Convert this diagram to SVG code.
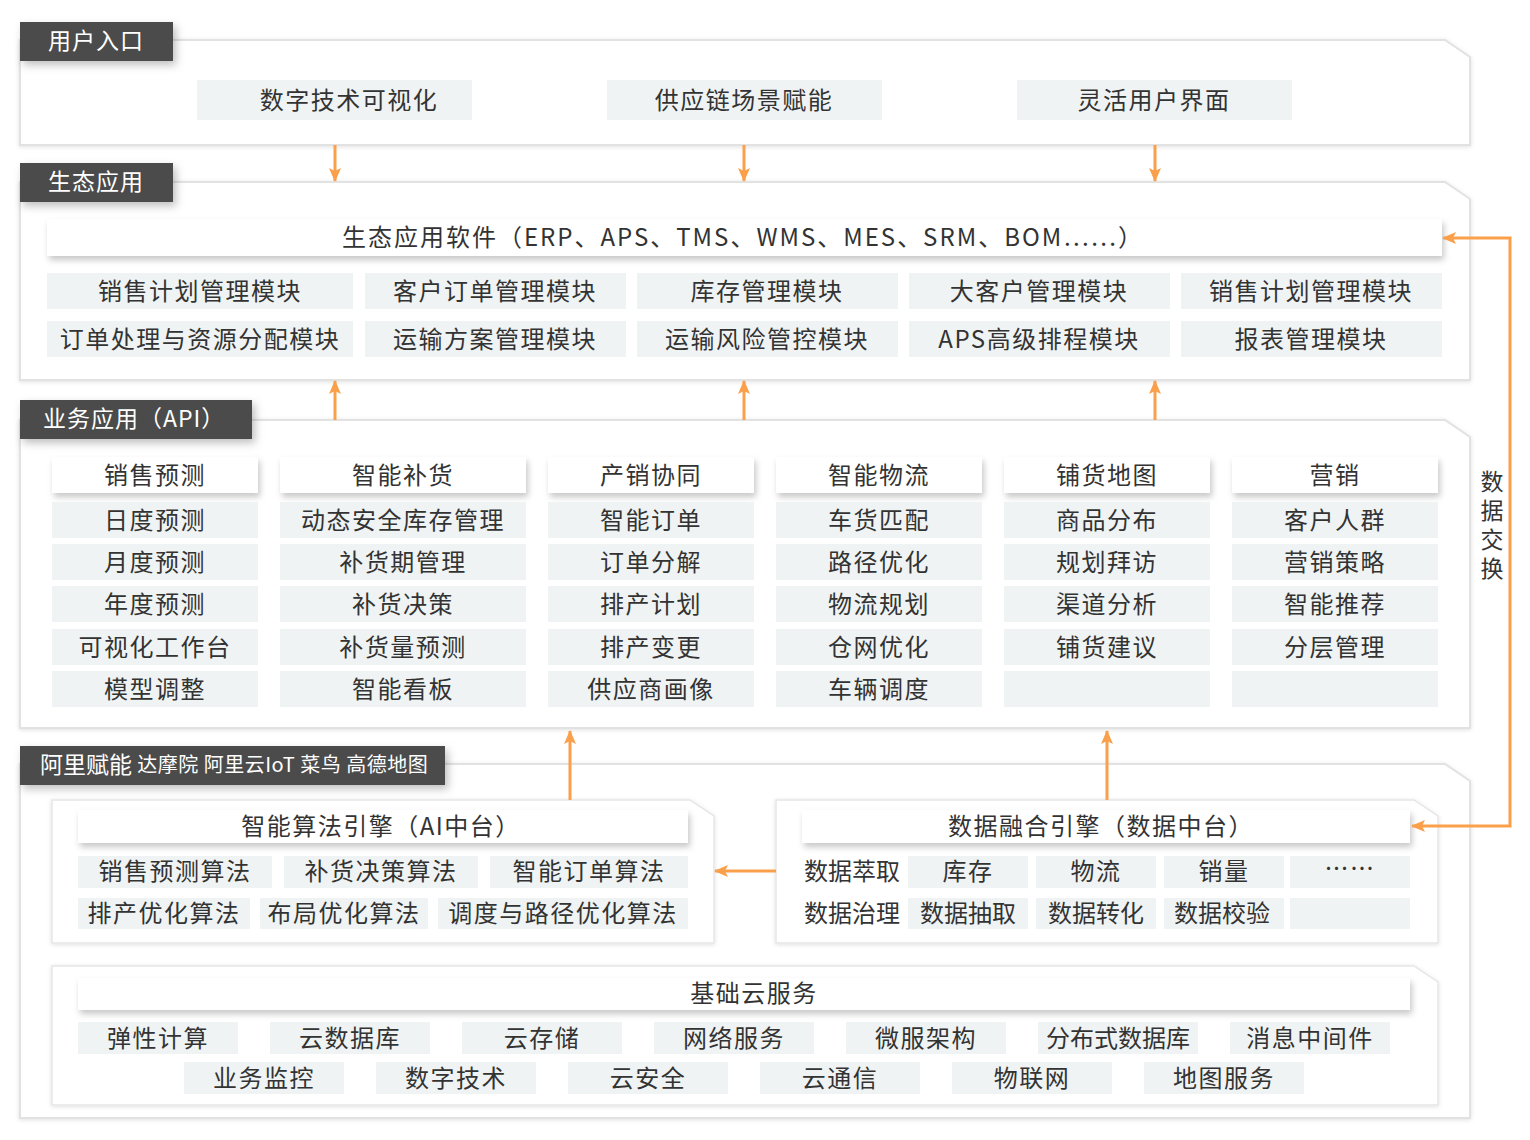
<svg xmlns="http://www.w3.org/2000/svg" width="1530" height="1140" viewBox="0 0 1530 1140">
<defs>
<filter id="pshadow" x="-5%" y="-10%" width="110%" height="120%">
<feDropShadow dx="0" dy="1" stdDeviation="2" flood-color="#000" flood-opacity="0.12"/>
</filter>
<filter id="bshadow" x="-5%" y="-30%" width="110%" height="180%">
<feDropShadow dx="2" dy="4" stdDeviation="3" flood-color="#000" flood-opacity="0.22"/>
</filter>
<filter id="lshadow" x="-10%" y="-20%" width="130%" height="160%">
<feDropShadow dx="3" dy="4" stdDeviation="4" flood-color="#000" flood-opacity="0.25"/>
</filter>
<marker id="ah" viewBox="0 0 14 12" refX="13" refY="6" markerWidth="14" markerHeight="12" markerUnits="userSpaceOnUse" orient="auto-start-reverse">
<path d="M0,0 L14,6 L0,12 L3,6 Z" fill="#fa9f4a"/>
</marker>
</defs>
<style>
.panel{fill:#fff;stroke:#e2e2e2;stroke-width:2;filter:url(#pshadow)}
.sub{fill:#fff;stroke:#e6e6e6;stroke-width:1.5;filter:url(#pshadow)}
.lbl{fill:#4b4b4b;filter:url(#lshadow)}
.lt{fill:#fff;font-family:"Noto Sans CJK SC","Liberation Sans",sans-serif;font-size:23px;letter-spacing:1px;dominant-baseline:central;transform:translateY(-2px)}
.bar{fill:#fff;filter:url(#bshadow)}
.cell{fill:#f0f3f4}
.t{fill:#333;font-family:"Noto Sans CJK SC","Liberation Sans",sans-serif;font-size:24px;letter-spacing:1.5px;text-anchor:middle;dominant-baseline:central;transform:translateY(-2px)}
.n{letter-spacing:0}
.con{stroke:#fa9f4a;stroke-width:3;fill:none;marker-end:url(#ah)}
</style>

<g id="panel-user">
<path class="panel" d="M20,40 H1445 L1470,57 V145 H20 Z"/>
<rect class="lbl" x="20" y="22" width="153" height="39"/>
<text class="lt" x="48" y="41">用户入口</text>
<rect class="cell" x="197" y="80" width="275" height="40"/><text class="t" x="349" y="100">数字技术可视化</text>
<rect class="cell" x="607" y="80" width="275" height="40"/><text class="t" x="744" y="100">供应链场景赋能</text>
<rect class="cell" x="1017" y="80" width="275" height="40"/><text class="t" x="1154" y="100">灵活用户界面</text>
</g>

<g id="panel-eco">
<path class="panel" d="M20,182 H1445 L1470,199 V380 H20 Z"/>
<rect class="lbl" x="20" y="163" width="153" height="39"/>
<text class="lt" x="48" y="182">生态应用</text>
<rect class="bar" x="47" y="219" width="1395" height="37"/>
<text class="t n" x="742" y="237" textLength="800" lengthAdjust="spacing">生态应用软件（ERP、APS、TMS、WMS、MES、SRM、BOM……）</text>
<rect class="cell" x="47" y="273" width="306" height="36"/><text class="t" x="200" y="291">销售计划管理模块</text>
<rect class="cell" x="365" y="273" width="261" height="36"/><text class="t" x="495" y="291">客户订单管理模块</text>
<rect class="cell" x="637" y="273" width="261" height="36"/><text class="t" x="767" y="291">库存管理模块</text>
<rect class="cell" x="909" y="273" width="261" height="36"/><text class="t" x="1039" y="291">大客户管理模块</text>
<rect class="cell" x="1181" y="273" width="261" height="36"/><text class="t" x="1311" y="291">销售计划管理模块</text>
<rect class="cell" x="47" y="321" width="306" height="36"/><text class="t" x="200" y="339">订单处理与资源分配模块</text>
<rect class="cell" x="365" y="321" width="261" height="36"/><text class="t" x="495" y="339">运输方案管理模块</text>
<rect class="cell" x="637" y="321" width="261" height="36"/><text class="t" x="767" y="339">运输风险管控模块</text>
<rect class="cell" x="909" y="321" width="261" height="36"/><text class="t" x="1039" y="339">APS高级排程模块</text>
<rect class="cell" x="1181" y="321" width="261" height="36"/><text class="t" x="1311" y="339">报表管理模块</text>
</g>

<g id="panel-api">
<path class="panel" d="M20,420 H1445 L1470,437 V728 H20 Z"/>
<rect class="lbl" x="20" y="400" width="232" height="39"/>
<text class="lt" x="43" y="419">业务应用（API）</text>
<g id="col-sales">
<rect class="bar" x="52" y="457" width="206" height="36"/><text class="t" x="155" y="475">销售预测</text>
<rect class="cell" x="52" y="502" width="206" height="36"/><text class="t" x="155" y="520">日度预测</text>
<rect class="cell" x="52" y="544" width="206" height="36"/><text class="t" x="155" y="562">月度预测</text>
<rect class="cell" x="52" y="586" width="206" height="36"/><text class="t" x="155" y="604">年度预测</text>
<rect class="cell" x="52" y="629" width="206" height="36"/><text class="t" x="155" y="647">可视化工作台</text>
<rect class="cell" x="52" y="671" width="206" height="36"/><text class="t" x="155" y="689">模型调整</text>
</g>
<g id="col-replenish">
<rect class="bar" x="280" y="457" width="246" height="36"/><text class="t" x="403" y="475">智能补货</text>
<rect class="cell" x="280" y="502" width="246" height="36"/><text class="t" x="403" y="520">动态安全库存管理</text>
<rect class="cell" x="280" y="544" width="246" height="36"/><text class="t" x="403" y="562">补货期管理</text>
<rect class="cell" x="280" y="586" width="246" height="36"/><text class="t" x="403" y="604">补货决策</text>
<rect class="cell" x="280" y="629" width="246" height="36"/><text class="t" x="403" y="647">补货量预测</text>
<rect class="cell" x="280" y="671" width="246" height="36"/><text class="t" x="403" y="689">智能看板</text>
</g>
<g id="col-sop">
<rect class="bar" x="548" y="457" width="206" height="36"/><text class="t" x="651" y="475">产销协同</text>
<rect class="cell" x="548" y="502" width="206" height="36"/><text class="t" x="651" y="520">智能订单</text>
<rect class="cell" x="548" y="544" width="206" height="36"/><text class="t" x="651" y="562">订单分解</text>
<rect class="cell" x="548" y="586" width="206" height="36"/><text class="t" x="651" y="604">排产计划</text>
<rect class="cell" x="548" y="629" width="206" height="36"/><text class="t" x="651" y="647">排产变更</text>
<rect class="cell" x="548" y="671" width="206" height="36"/><text class="t" x="651" y="689">供应商画像</text>
</g>
<g id="col-logistics">
<rect class="bar" x="776" y="457" width="206" height="36"/><text class="t" x="879" y="475">智能物流</text>
<rect class="cell" x="776" y="502" width="206" height="36"/><text class="t" x="879" y="520">车货匹配</text>
<rect class="cell" x="776" y="544" width="206" height="36"/><text class="t" x="879" y="562">路径优化</text>
<rect class="cell" x="776" y="586" width="206" height="36"/><text class="t" x="879" y="604">物流规划</text>
<rect class="cell" x="776" y="629" width="206" height="36"/><text class="t" x="879" y="647">仓网优化</text>
<rect class="cell" x="776" y="671" width="206" height="36"/><text class="t" x="879" y="689">车辆调度</text>
</g>
<g id="col-map">
<rect class="bar" x="1004" y="457" width="206" height="36"/><text class="t" x="1107" y="475">铺货地图</text>
<rect class="cell" x="1004" y="502" width="206" height="36"/><text class="t" x="1107" y="520">商品分布</text>
<rect class="cell" x="1004" y="544" width="206" height="36"/><text class="t" x="1107" y="562">规划拜访</text>
<rect class="cell" x="1004" y="586" width="206" height="36"/><text class="t" x="1107" y="604">渠道分析</text>
<rect class="cell" x="1004" y="629" width="206" height="36"/><text class="t" x="1107" y="647">铺货建议</text>
<rect class="cell" x="1004" y="671" width="206" height="36"/>
</g>
<g id="col-marketing">
<rect class="bar" x="1232" y="457" width="206" height="36"/><text class="t" x="1335" y="475">营销</text>
<rect class="cell" x="1232" y="502" width="206" height="36"/><text class="t" x="1335" y="520">客户人群</text>
<rect class="cell" x="1232" y="544" width="206" height="36"/><text class="t" x="1335" y="562">营销策略</text>
<rect class="cell" x="1232" y="586" width="206" height="36"/><text class="t" x="1335" y="604">智能推荐</text>
<rect class="cell" x="1232" y="629" width="206" height="36"/><text class="t" x="1335" y="647">分层管理</text>
<rect class="cell" x="1232" y="671" width="206" height="36"/>
</g>
</g>

<g id="panel-ali">
<path class="panel" d="M20,764 H1445 L1470,781 V1118 H20 Z"/>
<rect class="lbl" x="20" y="746" width="425" height="39"/>
<text class="lt" x="40" y="765" style="letter-spacing:0">阿里赋能 <tspan style="font-size:20px;letter-spacing:0.5px">达摩院 阿里云IoT 菜鸟 高德地图</tspan></text>

<g id="ai-engine">
<path class="sub" d="M52,800 H690 L714,816 V943 H52 Z"/>
<rect class="bar" x="78" y="810" width="610" height="33"/>
<text class="t" x="381" y="826">智能算法引擎（AI中台）</text>
<rect class="cell" x="78" y="856" width="194" height="32"/><text class="t" x="175" y="871">销售预测算法</text>
<rect class="cell" x="284" y="856" width="194" height="32"/><text class="t" x="381" y="871">补货决策算法</text>
<rect class="cell" x="490" y="856" width="198" height="32"/><text class="t" x="589" y="871">智能订单算法</text>
<rect class="cell" x="78" y="898" width="172" height="31"/><text class="t" x="164" y="913">排产优化算法</text>
<rect class="cell" x="260" y="898" width="168" height="31"/><text class="t" x="344" y="913">布局优化算法</text>
<rect class="cell" x="438" y="898" width="250" height="31"/><text class="t" x="563" y="913">调度与路径优化算法</text>
</g>

<g id="data-engine">
<path class="sub" d="M776,800 H1414 L1438,816 V943 H776 Z"/>
<rect class="bar" x="802" y="810" width="608" height="33"/>
<text class="t" x="1101" y="826">数据融合引擎（数据中台）</text>
<text class="t n" x="852" y="871">数据萃取</text>
<rect class="cell" x="908" y="856" width="120" height="32"/><text class="t" x="968" y="871">库存</text>
<rect class="cell" x="1036" y="856" width="120" height="32"/><text class="t" x="1096" y="871">物流</text>
<rect class="cell" x="1164" y="856" width="120" height="32"/><text class="t" x="1224" y="871">销量</text>
<rect class="cell" x="1290" y="856" width="120" height="32"/><text class="t" x="1350" y="868">……</text>
<text class="t n" x="852" y="913">数据治理</text>
<rect class="cell" x="908" y="898" width="120" height="31"/><text class="t n" x="968" y="913">数据抽取</text>
<rect class="cell" x="1036" y="898" width="120" height="31"/><text class="t n" x="1096" y="913">数据转化</text>
<rect class="cell" x="1164" y="898" width="120" height="31"/><text class="t n" x="1222" y="913">数据校验</text>
<rect class="cell" x="1290" y="898" width="120" height="31"/>
</g>

<g id="base-cloud">
<path class="sub" d="M52,966 H1414 L1438,982 V1105 H52 Z"/>
<rect class="bar" x="78" y="978" width="1332" height="32"/>
<text class="t" x="754" y="993">基础云服务</text>
<rect class="cell" x="78" y="1022" width="160" height="32"/><text class="t" x="158" y="1038">弹性计算</text>
<rect class="cell" x="270" y="1022" width="160" height="32"/><text class="t" x="350" y="1038">云数据库</text>
<rect class="cell" x="462" y="1022" width="160" height="32"/><text class="t" x="542" y="1038">云存储</text>
<rect class="cell" x="654" y="1022" width="160" height="32"/><text class="t" x="734" y="1038">网络服务</text>
<rect class="cell" x="846" y="1022" width="160" height="32"/><text class="t" x="926" y="1038">微服架构</text>
<rect class="cell" x="1038" y="1022" width="160" height="32"/><text class="t n" x="1118" y="1038">分布式数据库</text>
<rect class="cell" x="1230" y="1022" width="160" height="32"/><text class="t" x="1310" y="1038">消息中间件</text>
<rect class="cell" x="184" y="1062" width="160" height="32"/><text class="t" x="264" y="1078">业务监控</text>
<rect class="cell" x="376" y="1062" width="160" height="32"/><text class="t" x="456" y="1078">数字技术</text>
<rect class="cell" x="568" y="1062" width="160" height="32"/><text class="t" x="648" y="1078">云安全</text>
<rect class="cell" x="760" y="1062" width="160" height="32"/><text class="t" x="840" y="1078">云通信</text>
<rect class="cell" x="952" y="1062" width="160" height="32"/><text class="t" x="1032" y="1078">物联网</text>
<rect class="cell" x="1144" y="1062" width="160" height="32"/><text class="t" x="1224" y="1078">地图服务</text>
</g>
</g>

<g id="connectors">
<line class="con" x1="335" y1="145" x2="335" y2="181"/>
<line class="con" x1="744" y1="145" x2="744" y2="181"/>
<line class="con" x1="1155" y1="145" x2="1155" y2="181"/>
<line class="con" x1="335" y1="420" x2="335" y2="381"/>
<line class="con" x1="744" y1="420" x2="744" y2="381"/>
<line class="con" x1="1155" y1="420" x2="1155" y2="381"/>
<line class="con" x1="570" y1="800" x2="570" y2="731"/>
<line class="con" x1="1107" y1="800" x2="1107" y2="731"/>
<line class="con" x1="776" y1="871" x2="715" y2="871"/>
<path class="con" d="M1412,826 H1510 V238 H1443" style="marker-start:url(#ah)"/>
<text x="1492" y="528" style="fill:#333;font-family:'Noto Sans CJK SC','Liberation Sans',sans-serif;font-size:23px;letter-spacing:6px;writing-mode:vertical-rl;text-anchor:middle">数据交换</text>
</g>
</svg>
